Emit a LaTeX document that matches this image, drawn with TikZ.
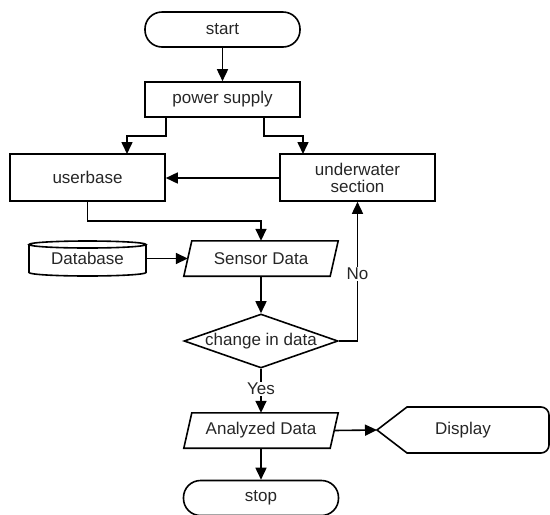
\documentclass[tikz,border=0pt]{standalone}
\usepackage{fontspec}
\setmainfont{Liberation Sans}
\usetikzlibrary{arrows.meta,shapes.geometric}
\begin{document}
\begin{tikzpicture}[x=1pt,y=-1pt,
  every node/.style={font=\fontsize{17}{19}\selectfont, text=black!85},
  lw/.style={line width=1.6pt},
  terminal/.style={draw,lw,rounded corners=17pt,minimum width=155pt,minimum height=35pt,inner sep=0pt},
  box/.style={draw,lw,minimum width=155pt,inner sep=0pt},
  para/.style={minimum width=146pt,minimum height=35pt,inner sep=0pt},
  conn/.style={lw,-{Triangle[length=12pt,width=11pt]}},
  lbl/.style={fill=white,inner sep=1pt}]
\useasboundingbox (0,0) rectangle (550,515);

\node[terminal] (start) at (222.5,29.5) {start};
\node[box,minimum height=35pt] (power) at (222.5,99.5) {power supply};
\node[box,minimum height=47pt] (user) at (87.5,177.5) {userbase};
\node[box,minimum height=47pt,align=center] (under) at (357.5,177.5) {underwater\\[-2pt]section};

\node[para] (sensor) at (261,258.5) {Sensor Data};
\draw[lw] ([xshift=4pt]sensor.north west) -- ([xshift=4pt]sensor.north east)
  -- ([xshift=-4pt]sensor.south east) -- ([xshift=-4pt]sensor.south west) -- cycle;

\node[minimum width=117pt,minimum height=35pt,inner sep=0pt] (db) at (87.5,258.5) {Database};
\draw[lw] (87.5,244.5) ellipse [x radius=58.5pt, y radius=3.5pt];
\draw[lw] (29,244.5) -- (29,272.5) arc[start angle=180,end angle=360,x radius=58.5pt,y radius=3.5pt] -- (146,244.5);

\node[draw,lw,shape=diamond,minimum width=154pt,minimum height=54pt,inner sep=0pt] (dec) at (261,341) {};
\node at (dec) {change in data};

\node[para] (anal) at (261,430.5) {Analyzed Data};
\draw[lw] ([xshift=4pt]anal.north west) -- ([xshift=4pt]anal.north east)
  -- ([xshift=-4pt]anal.south east) -- ([xshift=-4pt]anal.south west) -- cycle;

\coordinate (disptip) at (377,430);
\node (display) at (463,430) {Display};
\draw[lw] (407,453) -- (disptip) -- (407,407) -- (541,407)
  arc[start angle=90,end angle=0,radius=8pt] -- (549,445)
  arc[start angle=0,end angle=-90,radius=8pt] -- cycle;

\node[terminal] (stop) at (261,498) {stop};

% connectors
\draw[conn] (start) -- (power);
\draw[conn] (166,117.5) |- (127,136) -- (127,154);
\draw[conn] (264,117.5) |- (303,136) -- (303,154);
\draw[conn] (under.west |- 0,178) -- (user.east |- 0,178);
\draw[conn] (user.south) |- (261,221) -- (sensor.north);
\draw[conn] (db.east) -- (sensor.west);
\draw[conn] (sensor.south) -- (dec.north);
\draw[conn] (dec.east) -| node[lbl,pos=0.74] {No} (under.south);
\draw[conn] (dec.south) -- node[lbl,pos=0.45] {Yes} (anal.north);
\draw[conn] (anal.east) -- (disptip);
\draw[conn] (anal.south) -- (stop.north);
\end{tikzpicture}
\end{document}
